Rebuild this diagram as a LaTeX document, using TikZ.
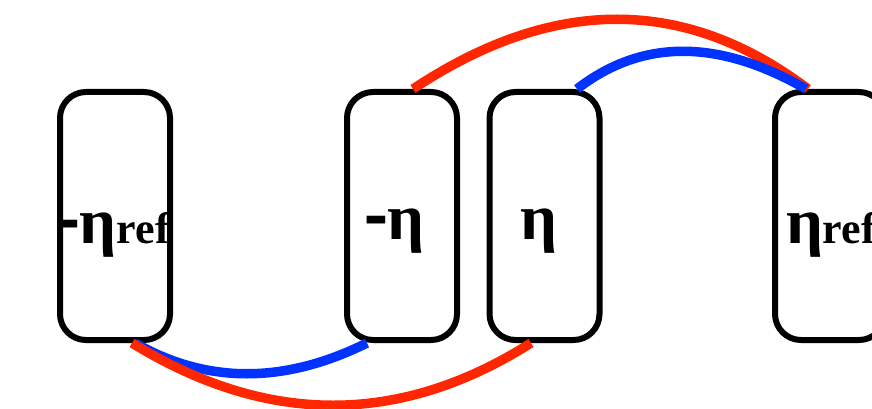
\documentclass[tikz,border=0pt]{standalone}
\usepackage{fontspec}
\setmainfont{Liberation Serif}
\usetikzlibrary{shadows,calc}
\definecolor{arcred}{RGB}{255,38,0}
\definecolor{arcblue}{RGB}{0,51,255}
\newcommand{\bigtxt}{\fontsize{65}{65}\selectfont\bfseries}
\newcommand{\subtxt}{\fontsize{44}{44}\selectfont\bfseries}
\newcommand{\dashtxt}{\fontsize{65}{65}\selectfont\bfseries\raisebox{-2pt}{\scalebox{1.1}[1.4]{-}}}
\begin{document}
\begin{tikzpicture}[x=1pt,y=-1pt,
  slot/.style={draw=black, line width=6pt, rounded corners=26pt, fill=white,
    minimum width=110pt, minimum height=248pt, inner sep=0pt,
    drop shadow={shadow xshift=2pt, shadow yshift=-3pt, opacity=0.18}},
  lab/.style={anchor=base west, inner sep=0pt, outer sep=0pt},
  arc/.style={line width=9.5pt}]
\useasboundingbox (0,0) rectangle (872,409);
\node[slot] (b1) at (115,216) {};
\node[slot] (b2) at (402,216) {};
\node[slot] (b3) at (544.5,216) {};
\node[slot] (b4) at (830,216) {};
\node[lab] (t1) at (56,243) {\dashtxt\bigtxt η\subtxt ref};
\node[lab] (t2) at (364,239) {\dashtxt\bigtxt η};
\node[lab] (t3) at (520,239) {\bigtxt η};
\node[lab] (t4) at (786,243) {\bigtxt η\subtxt ref};
% top arcs
\draw[arc, arcred] ([xshift=11pt]b2.north) .. controls (553,-4) and (685,-4) .. ([xshift=-22pt]b4.north);
\draw[arc, arcblue] ([xshift=32.5pt]b3.north) .. controls (642,38.7) and (718.3,38.7) .. ([xshift=-24pt]b4.north);
% bottom arcs
\draw[arc, arcblue] ([xshift=20pt]b1.south) .. controls (207,384) and (284.3,384) .. ([xshift=-35pt]b2.south);
\draw[arc, arcred] ([xshift=17pt]b1.south) .. controls (267,426) and (400,426) .. ([xshift=-13.5pt]b3.south);
\end{tikzpicture}
\end{document}
